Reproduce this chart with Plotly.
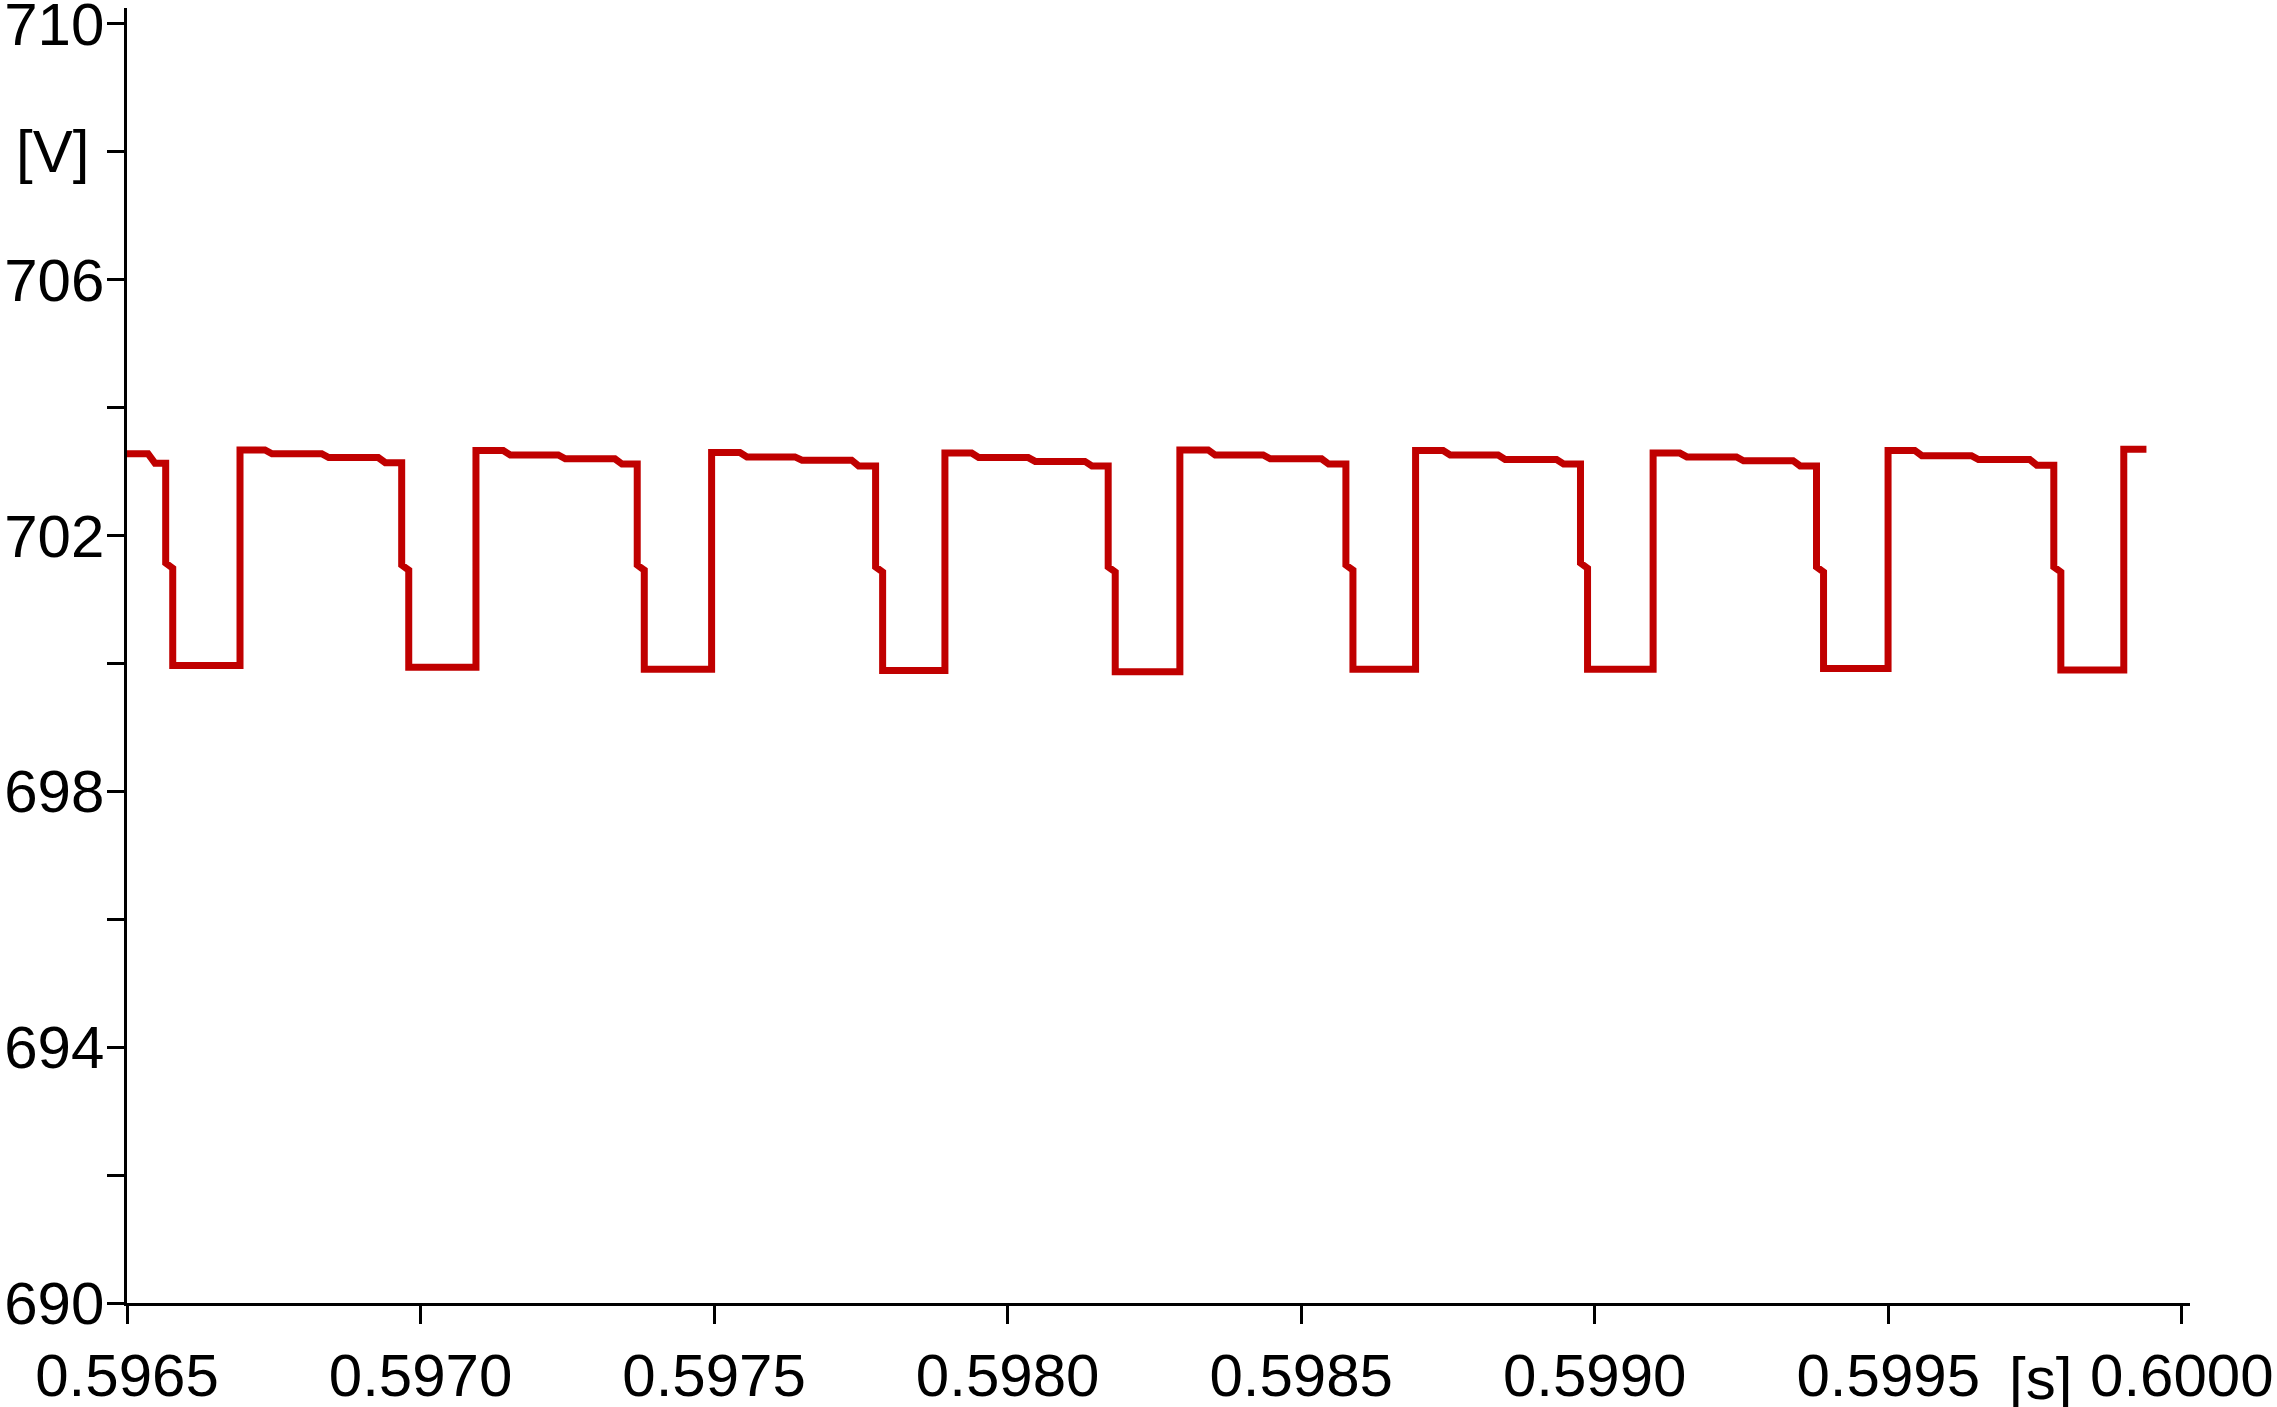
import plotly.graph_objects as go

# window start, everything below is in microseconds after it
T0 = 0.5965

# times of the first (vertical) drop in each period
drop_us = [65.9, 467.9, 869.1, 1275.1, 1671.3, 2076.2, 2475.8, 2877.8, 3282.0]
# times where the trace jumps back up
rise_us = [192.5, 594.4, 995.8, 1393.2, 1793.4, 2194.9, 2599.5, 2999.7, 3401.2]
# the three small steps down on each flat top
step_us = [
    [235.0, 331.6, 428.0],
    [640.9, 734.6, 831.1],
    [1044.0, 1137.7, 1234.3],
    [1438.7, 1535.1, 1631.6],
    [1841.6, 1935.3, 2034.8],
    [2241.8, 2335.5, 2435.0],
    [2645.0, 2741.5, 2837.9],
    [3045.2, 3141.7, 3241.1],
]
# levels of the flat top after each rise (rise level, then after each step)
top_v = [
    [703.34, 703.28, 703.22, 703.14],
    [703.33, 703.26, 703.20, 703.12],
    [703.30, 703.23, 703.18, 703.09],
    [703.29, 703.22, 703.16, 703.09],
    [703.34, 703.26, 703.20, 703.12],
    [703.33, 703.26, 703.19, 703.12],
    [703.29, 703.23, 703.17, 703.09],
    [703.33, 703.25, 703.19, 703.10],
    [703.35],
]
mid_v = [701.57, 701.54, 701.54, 701.51, 701.51, 701.54, 701.57, 701.51, 701.51]
low_v = [699.97, 699.94, 699.91, 699.89, 699.87, 699.91, 699.91, 699.92, 699.90]
start_v = [703.28, 703.13]
start_step_us = 35.8
end_us = 3439.8
RAMP = 12  # width of the short slanted bits, us
MID_SAG = 0.08

x_ticks = [0.5965, 0.5970, 0.5975, 0.5980, 0.5985, 0.5990, 0.5995, 0.6000]
y_ticks = [690, 692, 694, 696, 698, 700, 702, 704, 706, 708, 710]
y_labels = ["690", "", "694", "", "698", "", "702", "", "706", "", "710"]


def build_trace():
    t, v = [0.0], [start_v[0]]
    t += [start_step_us, start_step_us + RAMP]
    v += [start_v[0], start_v[1]]
    level = start_v[1]
    for i, td in enumerate(drop_us):
        t += [td, td, td + RAMP, td + RAMP]
        v += [level, mid_v[i], mid_v[i] - MID_SAG, low_v[i]]
        tr = rise_us[i]
        t += [tr, tr]
        v += [low_v[i], top_v[i][0]]
        level = top_v[i][0]
        if i < len(step_us):
            for s, new in zip(step_us[i], top_v[i][1:]):
                t += [s, s + RAMP]
                v += [level, new]
                level = new
    t.append(end_us)
    v.append(level)
    return [T0 + x * 1e-6 for x in t], v


ts, vs = build_trace()

fig = go.Figure()
fig.add_trace(go.Scatter(x=ts, y=vs, mode="lines",
                         line=dict(color="#C00000", width=7),
                         hoverinfo="skip", showlegend=False))

axis_common = dict(showgrid=False, zeroline=False, showline=True,
                   linecolor="black", linewidth=2.5, ticks="outside",
                   tickcolor="black", tickwidth=2.5, mirror=False,
                   automargin=False, ticklabeloverflow="allow")

fig.update_xaxes(range=[0.5965, 0.600014], tickvals=x_ticks,
                 ticktext=[f"{x:.4f}" for x in x_ticks], ticklen=18,
                 **axis_common)
fig.update_yaxes(range=[690, 710.25], tickvals=y_ticks, ticktext=y_labels,
                 ticklen=17, ticklabelstandoff=-9, **axis_common)

fig.add_annotation(text="[V]", xref="paper", x=0, xanchor="right", xshift=-36,
                   yref="y", y=708, yanchor="middle", showarrow=False)
fig.add_annotation(text="[s]", xref="x", x=0.59976, xanchor="center",
                   yref="paper", y=0, yanchor="top", yshift=-40, showarrow=False)

fig.update_layout(template="none", width=2277, height=1407,
                  margin=dict(l=127, r=87, t=8, b=104),
                  paper_bgcolor="white", plot_bgcolor="white",
                  font=dict(family="Liberation Sans, Arial, sans-serif",
                            size=60, color="black"))

# drop the browser's default 8px body margin so the figure sits at 0,0
fig.write_html("out.html", config={"displayModeBar": False},
               post_script="document.body.style.margin='0';")
